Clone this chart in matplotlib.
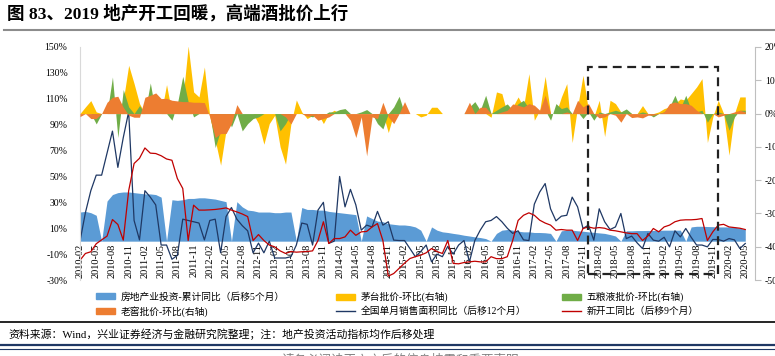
import matplotlib
matplotlib.use('Agg')
import matplotlib.pyplot as plt
from matplotlib.patches import Patch, Rectangle
from matplotlib.lines import Line2D
import numpy as np
import pandas as pd

plt.rcParams['font.family'] = ['Liberation Serif', 'Noto Sans CJK SC']

# monthly categories 2010-02 .. 2020-05
months = pd.period_range('2010-02', '2020-05', freq='M').strftime('%Y-%m').tolist()
x = np.arange(len(months))

# left axis (%)
invest = [22.5, 23, 22, 20, 0, 31, 36, 37.5, 38, 38,
          37.5, 37, 36.5, 36.5, 36, 34, 0, 32, 31.5, 32,
          33, 33, 33.5, 33.5, 33, 32.5, 31.5, 30.5, 0, 30.5,
          26.5, 24, 23.5, 22.5, 22.5, 22.5, 22, 22, 22.5, 22.5,
          0, 26, 24.5, 24.5, 24, 24, 23, 22.5, 22, 21.5,
          21, 20.5, 0, 19.5, 17.5, 15.5, 15, 13.5, 13, 12.5,
          12.5, 12, 11, 8.5, 0, 11, 8.5, 7.2, 6.7, 6,
          5.4, 4.6, 4, 3.3, 2.8, 2, 0, 6, 8.5, 9,
          8.5, 7.7, 7.2, 7.2, 6.7, 6.7, 6.5, 6, 0, 8,
          8.5, 8.5, 8, 7.7, 7.2, 6.8, 6.4, 6, 5.1, 4,
          0, 8, 8, 8.2, 8.2, 8.3, 8.3, 8.4, 8.5, 8.5,
          8.5, 8.5, 0, 11, 11.5, 11.5, 11.3, 11.2, 11, 11,
          11, 10.8, 10, 9]
sales = [0, 22, 39, 51, 51, 68, 85, 57, 80, 100,
         16, 1, 39, 34, 28, -3, -3, -14, -11, 17,
         16, 15, 14, 1, 16, 17, -9, 19, 26, 17,
         12, 8, -9, -1.5, -9, 0, -13, -13, -13, -12,
         -3, 14, 13, -3, 24, 30, -1.7, 0, 50, 26.5,
         40, 28, 8.5, 12.4, 11, 23, 12.4, 15, 0.8, 0.5,
         0.5, -5.7, -12, -8, -3, -16, -10, -12, -4, -10,
         -3, 0.5, -16, 0.5, 8.5, 15, 16, 19, 15, 10,
         6, 8, 1, 0.5, 28.6, 38, 44.5, 25, 15.7, 19.3,
         20, 34, 26.5, 9.8, 12.4, 0.8, 25, 15, 9, 11,
         21.4, 2, 3.9, -1.3, -5.7, 6, 0.8, 0, 3, -4.4,
         8, 3.3, 9.8, 3, -3, -3, -4.4, 1.3, 1.3, 0,
         2, 1, -5.7, -1.8]
newstart = [-14.7, -9.5, -8.2, -2, 1, 3.9, 16.7, 12.9, 0.8, 39,
            60, 64, 72, 68, 67.7, 66, 63.5, 62.5, 48.4, 40.7,
            0.5, 27.8, 24, 24, 24.2, 24.5, 25, 25.7, 24, 22.6,
            21, 19, 0.5, 5.1, 0.5, -3, -4.4, -7.5, -9.5, -8,
            -8.5, -8.2, -8, -7.5, 0.5, 15, -1.8, 2, 2, 3.3,
            8.5, 4.5, 7.2, 7.5, 11, 13.6, 0.5, -27, -25, -21,
            -17, -13.4, -12, -10.8, -9, -5.7, -8, -9.5, 0.5, -17.2,
            -17.5, -16.5, -16, -15.5, -16, -16, -12, -13.5, -13.5, -12,
            0.5, 16, 20, 21.9, 20, 16.2, 14, 12.4, 8.5, 9,
            8.5, 8.5, 0.5, 9.8, 11, 10, 10.5, 10, 8.5, 8,
            7.2, 6.4, 5.8, 5.8, 0.5, 4, 9.8, 7.2, 11, 12.4,
            15, 16.2, 16.5, 16.5, 16.8, 17.5, 0.5, 7.2, 12.4, 13,
            11, 10.5, 10, 9]

# right axis (%)
maotai = [0, 2, 3.9, 0.5, 0, 0, 0, 0, 4, 14.5,
          9, 3, 0, 0, 0, 0, 8.7, 0, 0, 4,
          20.3, 6.5, 5, 14, -1, -8, -15.5, -5, -1, 0,
          0, 0, 0, -3, -9.2, -3, -0.5, -10, -15.2, -3,
          4.1, 0.5, -1.5, -0.5, 0, -3, 0, 1, 0, 0,
          0, 0, 0, 0, 0, 0, 0, -5.7, 0, 0,
          0, 0, 0, -1, -0.5, 1.9, 1.9, 0, 0, 0,
          0, 0, 0, 0, 0, 0, -1.1, 6.5, 6, 0,
          2, 5, 2, 12, -2, 1, 11.2, 0, 0, 5,
          9, -8.7, 2, 11.5, 1, -1, 4, -6.9, 4, 3,
          0.5, 1, 0, 0, 2.4, 0, 0, 0.5, 1.5, 2,
          3, 4.4, 4, 6, 8, 10.5, -8.7, -1, 4, 0,
          -12.5, 0, 5, 5]
wuliangye = [0, 0, 0, -3.1, 0, 0, 11, -7.2, 7.2, 2,
             0, 2.4, 0, 9.2, 0, 3, 0, -2, 3, 11.2,
             3.5, -1, 0, 0, 0, -10.2, -5, 0, -4, 0,
             -5.2, -3, -1.5, -1, 0, 0, 0, -5.2, -3, 0,
             0, 0, -0.5, -1, 0, -0.5, 0.5, 0.5, 1.2, 1.5,
             0, 0, 0.5, 1.2, 0, -3, -4.6, 0, 2, 5.2,
             0, 0, 0, 0, 0, 0, 0, 0, 0, 0,
             0, 0, 2, 3.6, 1, 5.5, 0, 1, 2, 2.9,
             1, 3, 4, 1.5, 1, 0.5, 1, -2, 3, 1.5,
             2, 0, 0.5, -1.5, 0.5, -2, 0.5, 0, 0.5, 1,
             0.5, 1.4, 0, 0, 0.5, 0, -1, 0, 0.5, 2,
             5.5, 1.5, 5.5, 1, 0.5, 1, -2.6, 0, 0.5, 0,
             -5, -1, 1, 1]
laojiao = [-0.9, 0, -1.5, -1.5, 0, 3.4, 4.9, 5.2, 1.9, -0.5,
           -1.1, -1.1, 4.9, 5.5, 6.2, 4.5, 4.6, 4, 3.8, 3.6,
           3.6, 3.4, 3.4, 3.3, -1, -7.2, -6, -6, -3, 2.7,
           0, 0, 0, 0, 0, 0, 0, 0, -1, -3.1,
           0, 0, -0.8, -0.5, -2, -1.5, -1, 0, 0, 0,
           -2, -7.2, -1, -12.7, -1, -1.5, 3.4, -1, -3, 0,
           3.6, 0, 0, 0, 0, 0, 0, 0, 0, 0,
           0, 0, 3.4, 0, 1.9, 1.9, 0, 0, 0.5, 1,
           2.9, 2.5, 2, 3, 2.5, 1, 5.5, 0, 0, 0,
           0.5, 0, 4, 2, 3, 0, -1.3, -1, 0, -0.5,
           -2.6, 0, -1.2, -1, -1.3, -0.5, -0.5, 0, 0.5, 3,
           3.5, 3, 3, 2.5, 1, 0, 0, 0, -1, -0.5,
           0, 0.5, 1, 0.5]

labels = ['房地产业投资-累计同比（后移5个月）', '茅台批价-环比(右轴)', '五粮液批价-环比(右轴)',
          '老窖批价-环比(右轴)', '全国单月销售面积同比（后移12个月）', '新开工同比（后移9个月）']
c_blue, c_yel, c_grn, c_org, c_navy, c_red = '#5B9BD5', '#FFC000', '#70AD47', '#ED7D31', '#1F3864', '#C00000'

W, H = 775, 356
fig = plt.figure(figsize=(W / 100, H / 100), dpi=100)
ax = fig.add_axes([80 / W, 1 - 280 / H, 675 / W, 233 / H])
ax2 = ax.twinx()

ax.fill_between(x, 0, invest, color=c_blue, lw=0)
ax.plot(x, sales, color=c_navy, lw=0.9)
ax.plot(x, newstart, color=c_red, lw=0.9)
ax.set_ylim(-30, 150)
ax.set_yticks(range(-30, 151, 20))
ax.yaxis.set_major_formatter(lambda v, p: f'{v:.0f}%')
ax.set_xlim(0, 124.8)
# category labels hang under the left-axis zero line
ax.spines['bottom'].set_position(('data', 0))
ax.set_xticks(x[::3])
ax.set_xticklabels(months[::3])
for s in ['bottom', 'top', 'right']:
    ax.spines[s].set_visible(False)
ax.spines['left'].set_color('#D9D9D9')
ax.tick_params(axis='x', length=0, pad=2, labelrotation=90, labelsize=7.5)
ax.tick_params(axis='y', length=0, labelsize=7, pad=9)

ax2.fill_between(x, 0, maotai, color=c_yel, lw=0)
ax2.fill_between(x, 0, wuliangye, color=c_grn, lw=0)
ax2.fill_between(x, 0, laojiao, color=c_org, lw=0)
ax2.set_ylim(-50, 20)
ax2.set_yticks(range(-50, 21, 10))
ax2.yaxis.set_major_formatter(lambda v, p: f'{v:.0f}%')
for s in ['bottom', 'top', 'left']:
    ax2.spines[s].set_visible(False)
ax2.spines['right'].set_color('#BFBFBF')
ax2.tick_params(axis='y', length=4, color='#BFBFBF', labelsize=7, pad=3)

# highlighted window 2017-12 .. 2019-12
ax2.add_patch(Rectangle((94, -48.2), 24, 62.1, fill=False, ls=(0, (4, 2.5)),
                        lw=1.6, ec='#222222', zorder=10, clip_on=False))

fig.text(7 / W, 1 - 14 / H, '图 83、2019 地产开工回暖，高端酒批价上行',
         fontsize=12.6, fontweight='bold', va='center')
fig.add_artist(Line2D([0.005, 1], [1 - 30 / H] * 2, color='#8C8C8C', lw=1.5))

handles = [Patch(color=c_blue), Patch(color=c_yel), Patch(color=c_grn),
           Patch(color=c_org), Line2D([], [], color=c_navy, lw=1), Line2D([], [], color=c_red, lw=1)]
for col, xpos in enumerate([96, 336, 562]):
    fig.legend([handles[col], handles[col + 3]], [labels[col], labels[col + 3]],
               loc='upper left', bbox_to_anchor=(xpos / W, 1 - 292 / H), frameon=False,
               fontsize=7, handlelength=2.0, handleheight=0.6, handletextpad=0.5,
               labelspacing=0.45, borderaxespad=0, borderpad=0)

fig.add_artist(Line2D([0, 1], [1 - 322 / H] * 2, color='black', lw=1.2))
fig.text(8 / W, 1 - 334 / H, '资料来源：Wind，兴业证券经济与金融研究院整理；注：地产投资活动指标均作后移处理',
         fontsize=7.8, va='center')
fig.add_artist(Line2D([0, 1], [1 - 345 / H] * 2, color=c_navy, lw=1.6))
fig.add_artist(Line2D([0, 1], [1 - 348.5 / H] * 2, color=c_navy, lw=0.8))
fig.text(400 / W, 1 - 361 / H, '请务必阅读正文之后的信息披露和重要声明', fontsize=9,
         color='#7F7F7F', ha='center', va='center')

fig.savefig('out.png', dpi=100)
